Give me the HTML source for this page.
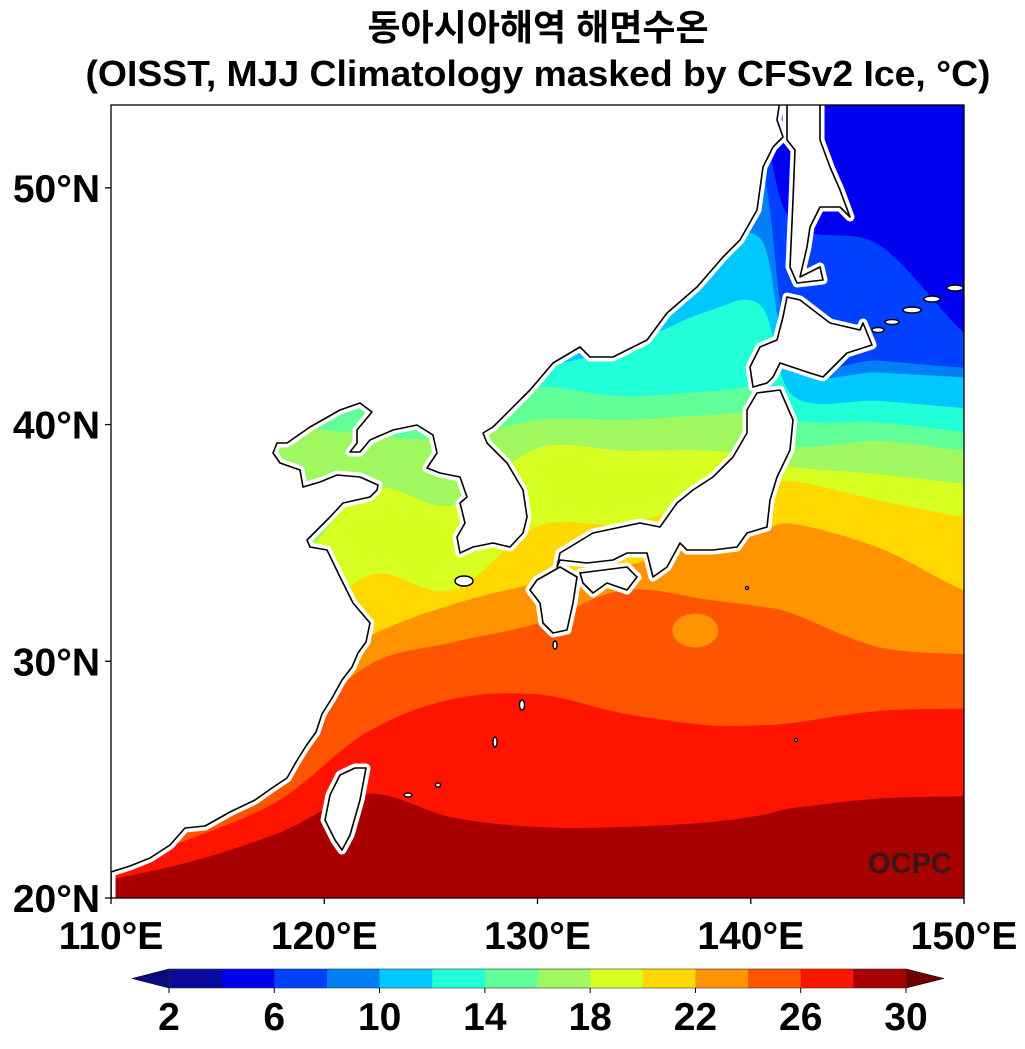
<!DOCTYPE html>
<html><head><meta charset="utf-8">
<style>
html,body{margin:0;padding:0;background:#fff;}
svg{display:block;font-family:"Liberation Sans","Noto Sans CJK KR",sans-serif;font-weight:bold;}
</style></head>
<body>
<svg id="chart" width="1025" height="1049" viewBox="0 0 1025 1049" xmlns="http://www.w3.org/2000/svg">
  <defs><clipPath id="mapclip"><rect x="111" y="105" width="853" height="793"/></clipPath></defs>
  <text x="538" y="40" text-anchor="middle" font-size="36">동아시아해역 해면수온</text>
  <text x="538" y="86" text-anchor="middle" font-size="36" textLength="905" lengthAdjust="spacingAndGlyphs">(OISST, MJJ Climatology masked by CFSv2 Ice, °C)</text>
  <g id="field" clip-path="url(#mapclip)"></g>
  <g id="land" clip-path="url(#mapclip)"></g>
  <rect x="111" y="105" width="853" height="793" fill="none" stroke="#000" stroke-width="1.3"/>
  <g id="axes"></g>
  <text x="910" y="873" text-anchor="middle" font-size="29" fill="#2a1a1a" fill-opacity="0.9">OCPC</text>
  <g id="cbar"></g>
</svg>
<script>
// ---- data ----
const lons = [110,114,118,122,126,130,134,138,140.5,142,146,150];
const levels = [6,8,10,12,14,16,18,20,22,24,26,28];
const iso6  = [60,60,60,60,60,60,60,60,53.0,48.5,47.6,43.9];
const iso8  = [60,60,60,60,60,60,60,51.5,50.8,43.0,42.7,42.4];
const iso10 = [60,60,60,60,60,45.0,46.0,47.3,47.8,42.4,42.2,42.0];
const iso12 = [60,60,60,60,44,42.6,43.3,44.8,45.0,41.2,41.0,40.7];
const iso14 = [60,60,60,41,41,41.6,41.2,41.4,41.5,40.2,40.1,39.7];
const iso16 = [60,45,40.5,39.6,39.4,40.2,40.2,40.4,40.4,39.1,39.3,38.9];
const iso18 = [25,28,33,37.2,36.6,39.0,38.9,38.9,38.6,38.2,37.9,37.5];
const iso20 = [24,26,30,33.6,33.0,35.7,35.8,36.8,37.3,37.6,36.8,36.1];
const iso22 = [23,25,28.5,31.0,32.4,33.3,34.0,35.0,35.5,35.8,34.8,33.0];
const iso24 = [22,23.5,26.5,29.8,30.8,31.6,33.0,32.6,32.3,32.0,30.6,30.3];
const iso26 = [21.5,22.6,24.2,27.0,28.4,28.6,27.8,27.3,27.3,27.4,27.9,28.0];
const iso28 = [20.8,21.6,22.8,24.4,23.4,23.0,23.0,23.2,23.5,23.8,24.2,24.3];
const binEdges = [2,4,6,8,10,12,14,16,18,20,22,24,26,28,30];
const binColors = ["#0a0a9c","#0000f0","#0040ff","#0080f4","#00c8ff","#20ffd8","#60ff98","#a0f860","#d8ff22","#ffd800","#ff9400","#ff5400","#ff1400","#a80000"];
const cbarLabels = [2,6,10,14,18,22,26,30];
const latTicks = [20,30,40,50];
const lonTicks = [110,120,130,140,150];

const NS="http://www.w3.org/2000/svg";
const X0=111,X1=964,Y0=898,Y1=105,LON0=110,LON1=150,LAT0=20,LAT1=53.5;
const xOf=lon=>X0+(lon-LON0)*(X1-X0)/(LON1-LON0);
const yOf=lat=>Y0-(lat-LAT0)*(Y0-Y1)/(LAT1-LAT0);
function colorFor(v){for(let i=0;i<binEdges.length-1;i++){if(v>=binEdges[i]&&v<binEdges[i+1])return binColors[i];}return binColors[binColors.length-1];}
function mk(tag,attrs,parent){const e=document.createElementNS(NS,tag);for(const k in attrs)e.setAttribute(k,attrs[k]);parent.appendChild(e);return e;}

// field
const field=document.getElementById('field');
const bg=mk('rect',{x:X0,y:Y1,width:X1-X0,height:Y0-Y1,fill:colorFor(4)},field);


const isos=[iso6,iso8,iso10,iso12,iso14,iso16,iso18,iso20,iso22,iso24,iso26,iso28];
function smoothPath(pts){let d=`M${pts[0][0]},${pts[0][1]}`;for(let i=0;i<pts.length-1;i++){const p0=pts[Math.max(0,i-1)],p1=pts[i],p2=pts[i+1],p3=pts[Math.min(pts.length-1,i+2)];const c1=[p1[0]+(p2[0]-p0[0])/6,p1[1]+(p2[1]-p0[1])/6];const c2=[p2[0]-(p3[0]-p1[0])/6,p2[1]-(p3[1]-p1[1])/6];d+=` C${c1[0]},${c1[1]} ${c2[0]},${c2[1]} ${p2[0]},${p2[1]}`;}return d;}
levels.forEach((lv,k)=>{
  const arr=isos[k];
  const pts=lons.map((lo,i)=>[xOf(lo),yOf(Math.min(arr[i],60))]);
  pts.unshift([X0-30,pts[0][1]]);pts.push([X1+30,pts[pts.length-1][1]]);
  const d=smoothPath(pts)+` L${X1+30},${Y0+30} L${X0-30},${Y0+30} Z`;
  const p=mk('path',{d:d,fill:colorFor(lv)},field);
  
  
});
const ed=mk('ellipse',{cx:xOf(137.4),cy:yOf(31.3),rx:23,ry:17,fill:colorFor(22)},field);



// land (pixel outlines)
const land=document.getElementById('land');
const shapes={
 'continent':[[111,898],[111,872],[130,866],[150,858],[170,845],[185,828],[205,826],[230,812],[255,800],[272,788],[287,778],[296,762],[306,746],[316,732],[322,714],[332,698],[342,680],[352,667],[358,653],[366,642],[370,623],[353,603],[340,577],[327,550],[310,547],[307,540],[317,530],[330,517],[343,503],[370,497],[377,490],[378,485],[360,477],[337,475],[320,482],[303,487],[300,470],[280,463],[273,453],[277,443],[287,443],[310,427],[340,410],[360,403],[372,412],[357,430],[357,443],[350,452],[360,452],[370,440],[393,430],[417,425],[433,435],[437,453],[427,468],[440,473],[460,477],[467,497],[460,503],[465,523],[457,537],[460,553],[473,547],[493,543],[510,547],[523,533],[527,517],[523,490],[507,463],[487,443],[483,433],[493,427],[530,390],[553,363],[580,347],[590,357],[613,357],[647,340],[667,313],[697,287],[723,257],[740,240],[757,210],[763,167],[773,147],[783,137],[777,120],[780,100],[100,100],[100,898]],
 'sakhalin':[[795,100],[820,100],[820,140],[830,167],[840,190],[850,217],[840,207],[820,207],[810,227],[807,247],[800,277],[820,267],[823,280],[797,283],[790,267],[793,200],[795,150],[787,140],[787,100]],
 'hokkaido':[[787,297],[800,300],[830,323],[860,330],[863,323],[872,345],[847,353],[823,377],[810,373],[780,363],[773,377],[767,383],[753,387],[750,367],[760,347],[777,340],[783,317]],
 'honshu':[[757,393],[780,390],[793,420],[790,450],[777,477],[770,500],[767,527],[747,533],[737,547],[713,550],[687,550],[680,543],[667,567],[653,577],[647,553],[627,553],[613,560],[587,563],[560,560],[557,567],[560,553],[593,533],[640,523],[660,527],[677,503],[693,490],[713,477],[733,457],[747,433],[747,410]],
 'shikoku':[[580,573],[627,567],[637,577],[627,590],[607,583],[593,593],[583,583]],
 'kyushu':[[537,580],[560,567],[577,577],[573,603],[567,630],[553,633],[543,623],[540,603],[530,590]],
 'taiwan':[[355,768],[366,768],[360,800],[350,835],[342,850],[335,840],[325,820],[330,795],[340,775]]
};
function polyD(p){return 'M'+p.map(q=>q.join(',')).join(' L')+' Z';}
for(const nm in shapes){
  const d=polyD(shapes[nm]);
  const m=mk('path',{d:d,fill:'#fff',stroke:'#fff','stroke-width':9,'stroke-linejoin':'round'},land);
  
  
}
for(const nm in shapes){
  const d=polyD(shapes[nm]);
  const c=mk('path',{d:d,fill:'#fff',stroke:'#000','stroke-width':1.6,'stroke-linejoin':'round'},land);
  
  
}
const jeju=mk('ellipse',{cx:464,cy:581,rx:9,ry:5,fill:'#fff',stroke:'#000','stroke-width':1.5},land);


const islets=[[878,330,6,2.5],[892,322,7,2.5],[912,310,9,3],[932,299,8,3],[955,288,8,3],[555,645,2,4],[522,705,2.5,5],[495,742,2,5],[438,785,2.5,2],[408,795,4,2],[747,588,1.5,1.5],[796,740,1.5,1.5]];
islets.forEach(p=>{
  const e=mk('ellipse',{cx:p[0],cy:p[1],rx:p[2],ry:p[3],fill:'#fff',stroke:'#000','stroke-width':1.4},land);
  
  
});

// axes
const axes=document.getElementById('axes');
latTicks.forEach(v=>{
  const y=yOf(v);
  const t=mk('line',{x1:105,x2:111,y1:y,y2:y,stroke:'#000','stroke-width':1.3},axes);
  
  
  const l=mk('text',{x:100,y:y+14,'text-anchor':'end','font-size':39},axes);
  l.textContent=v+'°N';
  
  
});
lonTicks.forEach(v=>{
  const x=xOf(v);
  const t=mk('line',{x1:x,x2:x,y1:898,y2:904,stroke:'#000','stroke-width':1.3},axes);
  
  
  const l=mk('text',{x:x,y:949,'text-anchor':'middle','font-size':39},axes);
  l.textContent=v+'°E';
  
  
});

// colorbar
const cb=document.getElementById('cbar');
const CB0=169,CB1=906,CBy0=969,CBy1=988;
const cbx=v=>CB0+(v-binEdges[0])*(CB1-CB0)/(binEdges[binEdges.length-1]-binEdges[0]);
const lt=mk('polygon',{points:`${CB0},${CBy0} ${CB0},${CBy1} 132,${(CBy0+CBy1)/2}`,fill:'#0a0a80',stroke:'#000','stroke-width':0.6},cb);


const rt=mk('polygon',{points:`${CB1},${CBy0} ${CB1},${CBy1} 944,${(CBy0+CBy1)/2}`,fill:'#700000',stroke:'#000','stroke-width':0.6},cb);


binColors.forEach((c,i)=>{
  const r=mk('rect',{x:cbx(binEdges[i]),y:CBy0,width:cbx(binEdges[i+1])-cbx(binEdges[i])+0.5,height:CBy1-CBy0,fill:c},cb);
  
  
});
const fr=mk('rect',{x:CB0,y:CBy0,width:CB1-CB0,height:CBy1-CBy0,fill:'none',stroke:'#333','stroke-width':0.6},cb);


cbarLabels.forEach(v=>{
  const x=cbx(v);
  const t=mk('line',{x1:x,x2:x,y1:CBy1,y2:CBy1+5,stroke:'#000','stroke-width':1},cb);
  
  
  const l=mk('text',{x:x,y:1030,'text-anchor':'middle','font-size':39},cb);
  l.textContent=v;
  
  
});
</script>
</body></html>
